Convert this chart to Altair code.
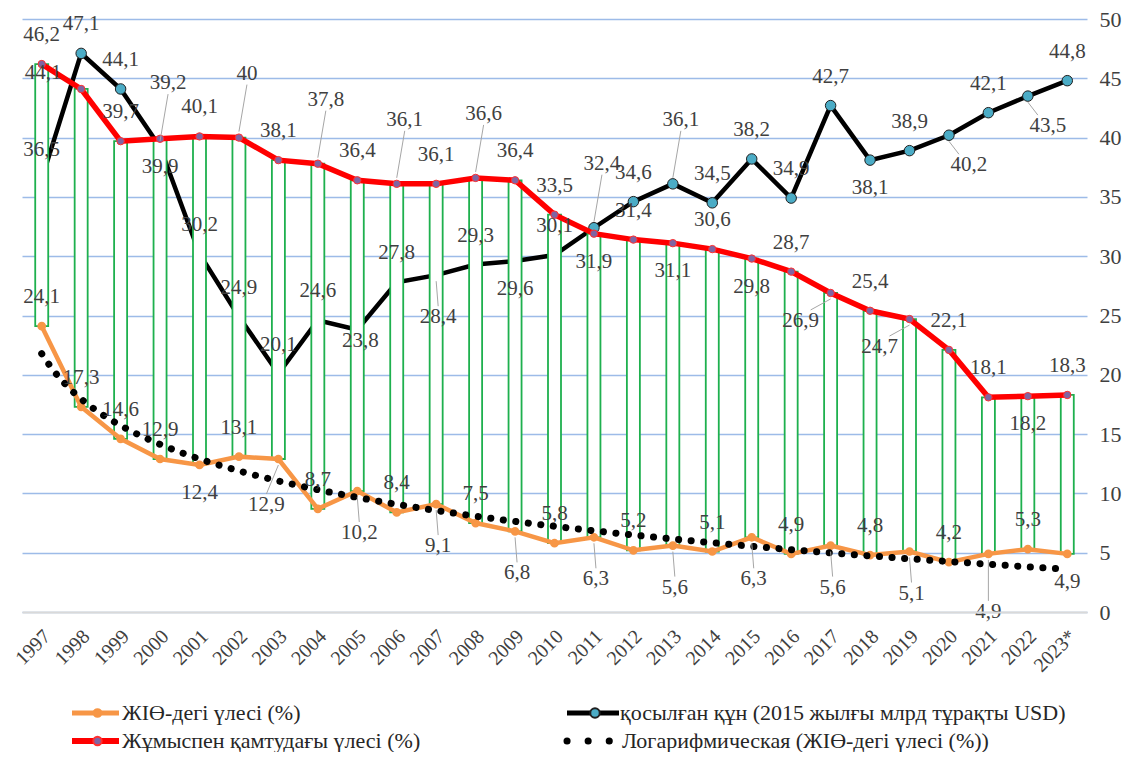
import altair as alt
import pandas as pd

# ---------------- data ----------------
years = ["1997", "1998", "1999", "2000", "2001", "2002", "2003", "2004", "2005",
         "2006", "2007", "2008", "2009", "2010", "2011", "2012", "2013", "2014",
         "2015", "2016", "2017", "2018", "2019", "2020", "2021", "2022", "2023*"]

gdp_share = [24.1, 17.3, 14.6, 12.9, 12.4, 13.1, 12.9, 8.7, 10.2, 8.4, 9.1, 7.5, 6.8,
             5.8, 6.3, 5.2, 5.6, 5.1, 6.3, 4.9, 5.6, 4.8, 5.1, 4.2, 4.9, 5.3, 4.9]

value_added = [36.5, 47.1, 44.1, 39.2, 30.2, 24.9, 20.1, 24.6, 23.8, 27.8, 28.4, 29.3,
               29.6, 30.1, 32.4, 34.6, 36.1, 34.5, 38.2, 34.9, 42.7, 38.1, 38.9, 40.2,
               42.1, 43.5, 44.8]

emp_share = [46.2, 44.1, 39.7, 39.9, 40.1, 40.0, 38.1, 37.8, 36.4, 36.1, 36.1, 36.6, 36.4,
             33.5, 31.9, 31.4, 31.1, 30.6, 29.8, 28.7, 26.9, 25.4, 24.7, 22.1, 18.1,
             18.2, 18.3]

legend_names = ["ЖІӨ-дегі үлесі (%)",
                "қосылған құн (2015 жылғы млрд  тұрақты USD)",
                "Жұмыспен  қамтудағы үлесі (%)",
                "Логарифмическая (ЖІӨ-дегі үлесі (%))"]

# label placement codes (style only)
gdp_pos = ["t", "t", "t", "t", "b", "t", "bbl", "t", "B", "t", "B", "t", "B", "t", "B",
           "t", "B", "t", "B", "t", "B", "t", "B", "t", "bb", "t", "b"]
va_pos = ["t", "t", "t", "tt", "t", "t", "t", "t", "bs", "t", "B", "t", "b", "t", "tt",
          "t", "tt", "t", "t", "t", "t", "b", "t", "br", "t", "br", "t"]
emp_pos = ["t", "l", "t", "b", "t", "tt", "t", "tt", "t", "tt", "t", "tt", "t", "t", "b",
           "t", "b", "t", "b", "t", "bl", "t", "bl", "t", "t", "b", "t"]

OFFS = {"t": (0, -29), "tt": (8, -64), "b": (0, 28), "B": (2, 42), "bb": (0, 58),
        "bbl": (-12, 46), "bl": (-30, 28), "br": (20, 30), "bs": (3, 11), "l": (-38, -16)}
LEADER = {"tt", "B", "bb", "bbl", "bl", "br"}

FONT = "Liberation Serif"
FS = 21
TXT = "#404040"

N = len(years)
fmt = lambda v: f"{v:g}".replace(".", ",")
df = pd.DataFrame({
    "year": years, "i": list(range(1, N + 1)),
    "gdp": gdp_share, "va": value_added, "emp": emp_share,
    "gdp_pos": gdp_pos, "va_pos": va_pos, "emp_pos": emp_pos,
    "gdp_lbl": [fmt(v) for v in gdp_share],
    "va_lbl": [fmt(v) for v in value_added],
    "emp_lbl": [fmt(v) for v in emp_share],
})

xscale = alt.Scale(type="point", padding=0.5)
yscale = alt.Scale(domain=[0, 50], nice=False, zero=True)

x_axis = alt.Axis(labelAngle=-45, labelFont=FONT, labelFontSize=20,
                  labelColor=TXT, ticks=False, domainColor="#d9d9d9",
                  domainWidth=2, labelPadding=21, labelOffset=5, grid=False, title=None,
                  labelAlign="right", labelBaseline="middle", zindex=1)
y_axis = alt.Axis(orient="right", values=list(range(0, 55, 5)),
                  grid=True, gridColor="#9dbbe8", gridWidth=1.5,
                  domain=False, ticks=False, labelFont=FONT,
                  labelFontSize=FS + 1, labelColor=TXT,
                  labelPadding=12, title=None)

X = alt.X("year:O", sort=years, scale=xscale, axis=x_axis)
Xn = alt.X("year:O", sort=years, scale=xscale, axis=None)


def Y(field):
    return alt.Y(f"{field}:Q", scale=yscale, axis=y_axis)


base = alt.Chart(df)

black_line = base.mark_line(color="black", strokeWidth=4.5).encode(x=X, y=Y("va"))
black_pts = base.mark_point(filled=True, shape="circle", size=110, fill="#4bacc6",
                            stroke="#1f1f1f", strokeWidth=1, opacity=1).encode(x=X, y=Y("va"))
bars = base.mark_bar(size=13, fill="white", stroke="#1eb04e", strokeWidth=1.8,
                     fillOpacity=1).encode(x=X, y=Y("gdp"), y2="emp:Q")
red_line = base.mark_line(color="#ff0000", strokeWidth=5.5).encode(x=X, y=Y("emp"))
red_pts = base.mark_point(filled=True, shape="circle", size=55, fill="#8064a2",
                          stroke="#ff3030", strokeWidth=1, opacity=1).encode(x=X, y=Y("emp"))
orange_line = base.mark_line(color="#f79646", strokeWidth=4.5).encode(x=X, y=Y("gdp"))
orange_pts = base.mark_point(filled=True, shape="circle", size=45, fill="#f79646",
                             stroke="#f79646", opacity=1).encode(x=X, y=Y("gdp"))

main1 = alt.layer(black_line, black_pts, bars, red_line, red_pts, orange_line, orange_pts)

trend = base.transform_regression("i", "gdp", method="log").mark_line(
    color="black", strokeWidth=7, strokeDash=[0.1, 12.5], strokeCap="round").encode(
    x=alt.X("i:Q", scale=alt.Scale(domain=[0.5, N + 0.5], nice=False, zero=False), axis=None),
    y=Y("gdp"))

labels = []
for field, poscol, lbl in [("gdp", "gdp_pos", "gdp_lbl"), ("va", "va_pos", "va_lbl"),
                           ("emp", "emp_pos", "emp_lbl")]:
    for code, (dx, dy) in OFFS.items():
        sub = base.transform_filter(alt.datum[poscol] == code)
        if code in LEADER:
            if dy < 0:
                yo, y2o = -6, dy + 11
            else:
                yo, y2o = 6, dy - 11
            x2o = dx + (10 if code == "bl" else -10 if code == "br" else 0)
            labels.append(sub.mark_rule(color="#a6a6a6", strokeWidth=1, yOffset=yo,
                                        x2Offset=x2o, y2Offset=y2o).encode(
                x=Xn, x2="year:O", y=Y(field), y2=f"{field}:Q"))
        labels.append(sub.mark_text(dx=dx, dy=dy, font=FONT, fontSize=FS, color=TXT,
                                    baseline="middle", align="center").encode(
            x=Xn, y=Y(field), text=f"{lbl}:N"))

# ---------------- legend ----------------
R1, R2 = 694, 722
C1L, C1R, C1T = 50, 97, 100
C2L, C2R, C2T = 545, 597, 598
leg = []


def one(name):
    return alt.Chart(pd.DataFrame({"name": [name]}))


def leg_entry(name, xl, xr, xt, y, col, mfill, mstroke, msize, lw):
    c = one(name)
    out = [c.mark_rule(color=col, strokeWidth=lw).encode(
        x=alt.value(xl), x2=alt.value(xr), y=alt.value(y))]
    if mfill:
        out.append(c.mark_point(filled=True, shape="circle", size=msize, fill=mfill,
                                stroke=mstroke, opacity=1).encode(
            x=alt.value((xl + xr) / 2 + 2), y=alt.value(y)))
    out.append(c.mark_text(align="left", baseline="middle", font=FONT, fontSize=FS + 1,
                           color="#262626").encode(x=alt.value(xt), y=alt.value(y), text="name:N"))
    return out


leg += leg_entry(legend_names[0], C1L, C1R, C1T, R1, "#f79646", "#f79646", "#f79646", 60, 5)
leg += leg_entry(legend_names[1], C2L, C2R, C2T, R1, "black", "#4bacc6", "#1f1f1f", 90, 5)
leg += leg_entry(legend_names[2], C1L, C1R, C1T, R2, "#ff0000", "#8064a2", "#ff3030", 70, 6)
c4 = one(legend_names[3])
leg.append(c4.mark_rule(color="black", strokeWidth=7, strokeDash=[0.1, 21],
                        strokeCap="round").encode(x=alt.value(C2L), x2=alt.value(C2L + 43),
                                                  y=alt.value(R2)))
leg.append(c4.mark_text(align="left", baseline="middle", font=FONT, fontSize=FS + 1,
                        color="#262626").encode(x=alt.value(C2T + 2), y=alt.value(R2),
                                                text="name:N"))

main2 = alt.layer(*labels, *leg)

chart = alt.layer(main1, trend, main2).resolve_scale(x="independent").properties(
    width=1065, height=593,
    autosize=alt.AutoSizeParams(type="none"),
    padding={"left": 14, "top": 11, "right": 36, "bottom": 140},
).configure(font=FONT).configure_view(stroke=None)

chart.save("out.html", embed_options={"renderer": "svg", "actions": False})
